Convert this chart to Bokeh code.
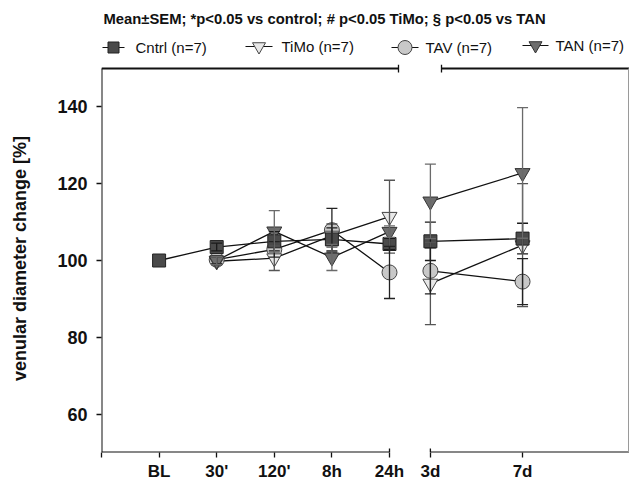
import math
from bokeh.plotting import figure
from bokeh.layouts import column
from bokeh.models import Range1d, FixedTicker, ColumnDataSource, Whisker, TeeHead
from bokeh.core.properties import value
from bokeh.embed import file_html
from bokeh.resources import INLINE

# ---------------- data ----------------
time_labels = ["BL", "30'", "120'", "8h", "24h", "3d", "7d"]
cntrl = [100.0, 103.5, 105.0, 105.5, 104.3, 105.0, 105.7]
cntrl_sem = [0.0, 1.0, 2.5, 3.0, 1.5, 5.0, 4.0]
timo = [None, 99.8, 100.6, 106.5, 111.4, 94.0, 104.0]
timo_sem = [None, 1.0, 3.2, 3.0, 9.5, 10.7, 16.0]
tav = [None, 100.2, 102.9, 107.9, 96.9, 97.3, 94.5]
tav_sem = [None, 1.0, 2.0, 5.7, 6.8, 6.0, 6.0]
tan = [None, 100.0, 107.6, 100.8, 107.5, 115.4, 122.8]
tan_sem = [None, 1.0, 5.4, 3.4, 1.5, 9.7, 17.0]
series_names = ["Cntrl (n=7)", "TiMo (n=7)", "TAV (n=7)", "TAN (n=7)"]
y_ticks = [60, 80, 100, 120, 140]
title_text = "Mean\u00b1SEM; *p<0.05 vs control;  # p<0.05 TiMo; \u00a7 p<0.05 vs TAN"
y_label = "venular diameter change [%]"

# ---------------- layout (broken time axis) ----------------
n_first = 5                       # BL .. 24h  (evenly spaced)
gap = 0.71                        # axis break between 24h and 3d
day_step = 0.4                    # spacing per day in the second segment
x_pos = [float(i + 1) for i in range(n_first)]
x_pos.append(round(x_pos[-1] + gap, 2))
x_pos.append(round(x_pos[-1] + 4 * day_step, 2))

FONT = "Liberation Sans"
W, H = 629, 483
HEAD_H = 64                         # header strip (title + legend)
PX_LEFT, PX_SCALE = 101.0, 57.6     # px of x=0, px per x unit
PY_BOTTOM, PY_SCALE = 452.0, 3.84   # px of y=50, px per y unit
Y0, Y1 = 50.0, 150.0
X_END = (W - PX_LEFT) / PX_SCALE
Y_END = Y0 + (PY_BOTTOM - HEAD_H) / PY_SCALE


def dx(px):
    return (px - PX_LEFT) / PX_SCALE


x_range = Range1d(0, X_END)

# ---------------- header: title + legend (frame aligned with main plot) ----------------
head = figure(width=W, height=HEAD_H, output_backend="svg", toolbar_location=None,
              x_range=x_range, y_range=Range1d(HEAD_H, 0),
              x_axis_location=None, y_axis_location=None,
              min_border_left=int(PX_LEFT), min_border_right=0, min_border_top=0, min_border_bottom=0)
head.outline_line_color = None
head.xgrid.visible = False
head.ygrid.visible = False

head.text(x=[dx(103)], y=[18], text=[title_text], text_font=value(FONT),
          text_font_style="bold", text_font_size="14.8px", text_color="#111111",
          text_align="left", text_baseline="middle")

styles = [
    dict(vals=cntrl, sem=cntrl_sem, marker="square", size=13, fill="#4a4a4a", edge="#222222", err="#1a1a1a"),
    dict(vals=timo, sem=timo_sem, marker="inverted_triangle", size=15, fill="#e8e8e8", edge="#444444", err="#555555"),
    dict(vals=tav, sem=tav_sem, marker="circle", size=15, fill="#c8c8c8", edge="#444444", err="#222222"),
    dict(vals=tan, sem=tan_sem, marker="inverted_triangle", size=15, fill="#6e6e6e", edge="#333333", err="#6a6a6a"),
]

leg = [  # line start px, line end px, text px, y px, marker size
    (102, 124, 135, 47, 11),
    (245, 272, 281, 46, 13),
    (391, 418, 425, 47, 14),
    (522, 548, 555, 45, 13),
]
for st, name, (l0, l1, tx, ty, ms) in zip(styles, series_names, leg):
    head.line([dx(l0), dx(l1)], [ty, ty], line_color="#111111", line_width=1.2)
    head.scatter([dx((l0 + l1) / 2)], [ty], marker=st["marker"], size=ms,
                 fill_color=st["fill"], line_color=st["edge"], line_width=1)
    head.text(x=[dx(tx)], y=[ty], text=[name], text_font=value(FONT),
              text_font_size="15px", text_color="#111111",
              text_align="left", text_baseline="middle")

# ---------------- main plot ----------------
p = figure(width=W, height=H - HEAD_H, output_backend="svg", toolbar_location=None,
           x_range=x_range, y_range=Range1d(Y0, Y_END),
           min_border_left=int(PX_LEFT), min_border_right=0,
           min_border_top=0, min_border_bottom=int(H - PY_BOTTOM))
p.outline_line_color = None
p.xgrid.visible = False
p.ygrid.visible = False
p.background_fill_color = "white"

p.xaxis.ticker = FixedTicker(ticks=[0.0] + x_pos)
overrides = {0.0: ""}
for xp, lab in zip(x_pos, time_labels):
    overrides[xp] = lab
p.xaxis.major_label_overrides = overrides
p.yaxis.ticker = FixedTicker(ticks=y_ticks)
for ax in (p.xaxis[0], p.yaxis[0]):
    ax.axis_line_color = None
    ax.major_tick_out = 5
    ax.major_tick_in = 0
    ax.minor_tick_line_color = None
    ax.major_tick_line_color = "#111111"
    ax.major_tick_line_width = 1.3
    ax.major_label_text_font = FONT
    ax.major_label_text_font_style = "bold"
    ax.major_label_text_color = "#111111"
p.xaxis.major_label_text_font_size = "17px"
p.yaxis.major_label_text_font_size = "18px"
p.xaxis.major_label_standoff = 4
p.yaxis.major_label_standoff = 9
p.yaxis.axis_label = y_label
p.yaxis.axis_label_text_font = FONT
p.yaxis.axis_label_text_font_style = "bold"
p.yaxis.axis_label_text_font_size = "18px"
p.yaxis.axis_label_text_color = "#111111"
p.yaxis.axis_label_standoff = 24

# frame lines with breaks
bx0, bx1 = x_pos[n_first - 1], x_pos[n_first]
tb0, tb1 = dx(398), dx(441)
frame = dict(
    x0=[0, 0, bx1, 0, tb1],
    y0=[Y0, Y0, Y0, Y1, Y1],
    x1=[0, bx0, X_END, tb0, X_END],
    y1=[Y1, Y0, Y0, Y1, Y1],
)
p.segment(x0="x0", y0="y0", x1="x1", y1="y1", source=ColumnDataSource(frame),
          line_color="#111111", line_width=2)
tick_h = 4 / PY_SCALE
p.segment(x0=[bx0, bx1], y0=[Y0, Y0], x1=[bx0, bx1], y1=[Y0 + tick_h] * 2,
          line_color="#111111", line_width=1.3)
p.segment(x0=[tb0, tb1], y0=[Y1 - tick_h] * 2, x1=[tb0, tb1], y1=[Y1 + tick_h] * 2,
          line_color="#111111", line_width=1.3)
p.segment(x0=[dx(628)], y0=[Y0], x1=[dx(628)], y1=[Y1], line_color="#9a9a9a", line_width=1)

# lines (two segments per series, broken at the axis break)
for st in styles:
    for lo, hi in ((0, n_first), (n_first, len(x_pos))):
        xs = [x_pos[i] for i in range(lo, hi) if st["vals"][i] is not None]
        ys = [st["vals"][i] for i in range(lo, hi) if st["vals"][i] is not None]
        p.line(xs, ys, line_color="#111111", line_width=1.3)

# error bars
for st in styles:
    xs, up, dn = [], [], []
    for i, (v, s) in enumerate(zip(st["vals"], st["sem"])):
        if v is None or not s:
            continue
        xs.append(x_pos[i]); up.append(v + s); dn.append(v - s)
    src = ColumnDataSource(dict(x=xs, upper=up, lower=dn))
    w = Whisker(source=src, base="x", upper="upper", lower="lower", dimension="height",
                line_color=st["err"], line_width=1.3, level="glyph",
                upper_head=TeeHead(size=11, line_color=st["err"], line_width=1.3),
                lower_head=TeeHead(size=11, line_color=st["err"], line_width=1.3))
    p.add_layout(w)

# markers (TAV, TiMo, TAN, Cntrl on top)
for idx in (2, 1, 3, 0):
    st = styles[idx]
    xs = [x_pos[i] for i, v in enumerate(st["vals"]) if v is not None]
    ys = [v for v in st["vals"] if v is not None]
    p.scatter(xs, ys, marker=st["marker"], size=st["size"], fill_color=st["fill"],
              line_color=st["edge"], line_width=1)

layout = column(head, p, spacing=0)
open("out.html", "w").write(file_html(layout, INLINE))
